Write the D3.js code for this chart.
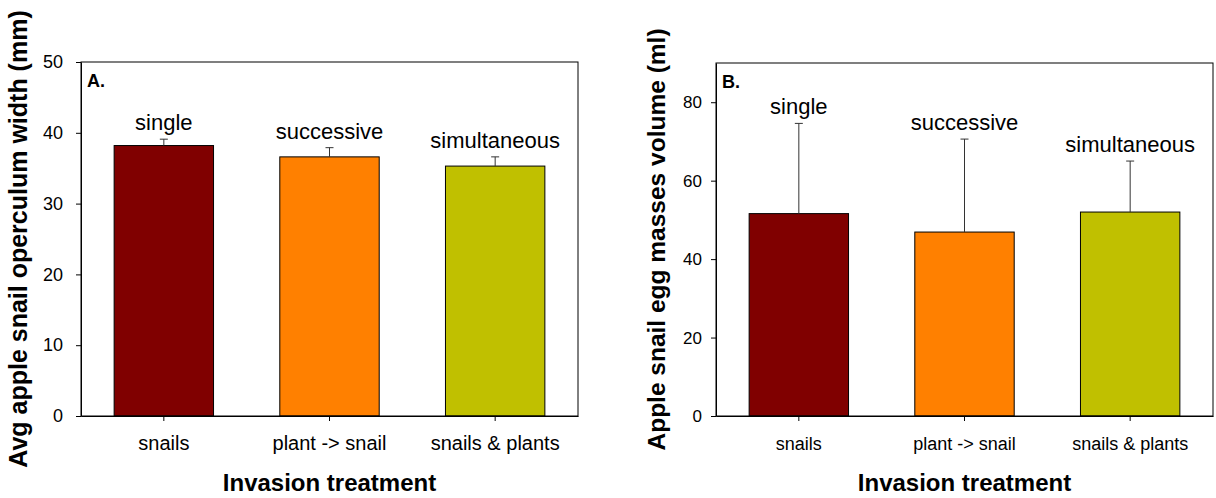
<!doctype html>
<html lang="en">
  <head>
    <meta charset="UTF-8" />
    <title>Apple snail invasion treatments</title>
    <style>
      body { margin: 0; background: #fff; }
      svg { display: block; font-family: "Liberation Sans", Arial, sans-serif; }
      .axis path, .axis line { stroke: #000; stroke-width: 1px; }
      .axis text { fill: #000; }
      .title { font-weight: bold; fill: #000; }
    </style>
  </head>
  <body>
    <div id="chart"></div>
    <script src="https://d3js.org/d3.v7.min.js"></script>
    <script>
      // values
      const categories = ['snails', 'plant -> snail', 'snails & plants'];
      const treatments = ['single', 'successive', 'simultaneous'];
      const barColors = ['#800000', '#ff8000', '#c0c000'];

      const operculumMean = [38.2, 36.6, 35.3];
      const operculumErr = [0.9, 1.3, 1.3];
      const operculumTicks = [0, 10, 20, 30, 40, 50];

      const eggMean = [51.6, 46.9, 52.0];
      const eggErr = [23.0, 23.7, 13.0];
      const eggTicks = [0, 20, 40, 60, 80];

      const width = 1216;
      const height = 498;

      const svg = d3.select('#chart').append('svg').attr('width', width).attr('height', height);

      function drawPanel(opt) {
        const x = d3.scaleBand().domain(categories).range([opt.left, opt.right]).paddingInner(0.4).paddingOuter(0.2);
        const y = d3.scaleLinear().domain([0, opt.yMax]).range([opt.bottom, opt.top]);
        const g = svg.append('g');

        // bars
        g.selectAll('rect.bar')
          .data(opt.mean)
          .enter()
          .append('rect')
          .attr('class', 'bar')
          .attr('x', (d, i) => x(categories[i]))
          .attr('y', (d) => y(d))
          .attr('width', x.bandwidth())
          .attr('height', (d) => y(0) - y(d))
          .attr('fill', (d, i) => barColors[i])
          .attr('stroke', '#000')
          .attr('stroke-width', 1);

        // error bars (upper only)
        const cx = (i) => x(categories[i]) + x.bandwidth() / 2;
        g.selectAll('line.err')
          .data(opt.mean)
          .enter()
          .append('line')
          .attr('x1', (d, i) => cx(i))
          .attr('x2', (d, i) => cx(i))
          .attr('y1', (d) => y(d))
          .attr('y2', (d, i) => y(d + opt.err[i]))
          .attr('stroke', '#333');
        g.selectAll('line.cap')
          .data(opt.mean)
          .enter()
          .append('line')
          .attr('x1', (d, i) => cx(i) - 4)
          .attr('x2', (d, i) => cx(i) + 4)
          .attr('y1', (d, i) => y(d + opt.err[i]))
          .attr('y2', (d, i) => y(d + opt.err[i]))
          .attr('stroke', '#333');

        // treatment labels above error bars
        g.selectAll('text.treat')
          .data(treatments)
          .enter()
          .append('text')
          .attr('x', (d, i) => cx(i))
          .attr('y', (d, i) => y(opt.mean[i] + opt.err[i]) - 9)
          .attr('text-anchor', 'middle')
          .style('font-size', '22px')
          .text((d) => d);

        // frame
        g.append('rect')
          .attr('x', opt.left)
          .attr('y', opt.top)
          .attr('width', opt.right - opt.left)
          .attr('height', opt.bottom - opt.top)
          .attr('fill', 'none')
          .attr('stroke', '#000');

        // axes
        const yAxis = g
          .append('g')
          .attr('class', 'axis')
          .attr('transform', `translate(${opt.left},0)`)
          .call(d3.axisLeft(y).tickValues(opt.ticks).tickSize(5).tickSizeOuter(0).tickPadding(opt.yPad));
        yAxis.selectAll('text').style('font-size', opt.yFont);

        const xAxis = g
          .append('g')
          .attr('class', 'axis')
          .attr('transform', `translate(0,${opt.bottom})`)
          .call(d3.axisBottom(x).tickSize(5).tickSizeOuter(0));
        xAxis.selectAll('text').attr('y', 34).attr('dy', 0).style('font-size', opt.xFont);

        // panel letter
        g.append('text')
          .attr('class', 'title')
          .attr('x', opt.left + 6)
          .attr('y', opt.top + 25)
          .style('font-size', '18px')
          .text(opt.letter);

        // axis titles
        g.append('text')
          .attr('class', 'title')
          .attr('x', (opt.left + opt.right) / 2)
          .attr('y', 491)
          .attr('text-anchor', 'middle')
          .style('font-size', '24px')
          .text('Invasion treatment');

        g.append('text')
          .attr('class', 'title')
          .attr('transform', `translate(${opt.yTitleX},${(opt.top + opt.bottom) / 2}) rotate(-90)`)
          .attr('text-anchor', 'middle')
          .style('font-size', opt.yTitleFont)
          .text(opt.yTitle);
      }

      drawPanel({
        left: 81, right: 578, top: 62, bottom: 416,
        yMax: 50, ticks: operculumTicks, yPad: 13, yFont: '18px',
        mean: operculumMean, err: operculumErr,
        xFont: '20px', letter: 'A.', yTitleX: 27, yTitleFont: '25px',
        yTitle: 'Avg apple snail operculum width (mm)',
      });

      drawPanel({
        left: 716, right: 1213, top: 63, bottom: 416,
        yMax: 90, ticks: eggTicks, yPad: 9, yFont: '17px',
        mean: eggMean, err: eggErr,
        xFont: '18px', letter: 'B.', yTitleX: 665, yTitleFont: '24.5px',
        yTitle: 'Apple snail egg masses volume (ml)',
      });
    </script>
  </body>
</html>
